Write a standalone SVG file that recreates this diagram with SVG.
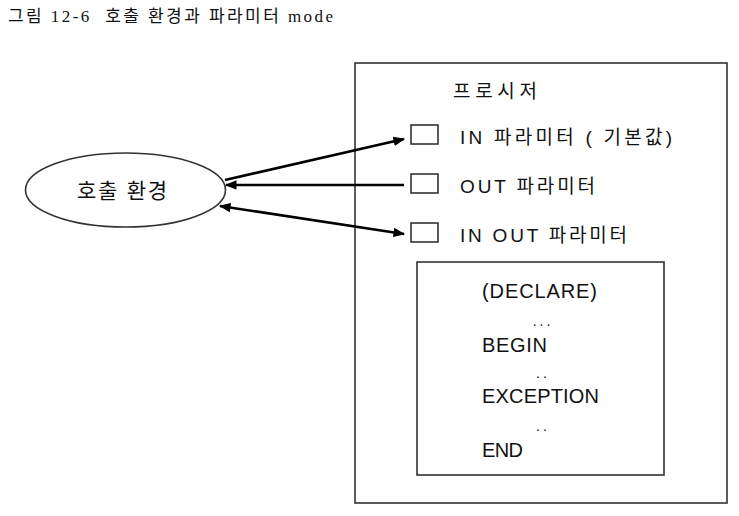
<svg xmlns="http://www.w3.org/2000/svg" width="739" height="516" viewBox="0 0 739 516">
<defs>
<marker id="ah" viewBox="0 0 10 10" refX="9" refY="5" markerWidth="4.5" markerHeight="4.5" orient="auto-start-reverse" markerUnits="strokeWidth">
<path d="M0,1 L10,5 L0,9 z" fill="#000"/>
</marker>
<style>
.t{font-family:"Liberation Sans","Noto Sans CJK KR",sans-serif;fill:#111;}
.box{fill:#fff;stroke:#333;stroke-width:1.6;}
.ln{stroke:#000;stroke-width:2.6;fill:none;}
</style>
</defs>
<rect width="739" height="516" fill="#fff"/>
<text x="8" y="22" font-family="Liberation Serif, Noto Sans CJK KR, serif" font-size="17" fill="#111" xml:space="preserve" textLength="325" lengthAdjust="spacing">그림 12-6  호출 환경과 파라미터 mode</text>
<g id="procedure">
<rect class="box" x="355" y="63" width="372" height="440"/>
<text class="t" x="453" y="98" font-size="19" textLength="84" lengthAdjust="spacing">프로시저</text>
</g>
<g id="env">
<ellipse class="box" cx="125.5" cy="190" rx="100" ry="37"/>
<text class="t" x="77" y="198" font-size="21" textLength="90" lengthAdjust="spacing">호출 환경</text>
</g>
<g id="p-in">
<rect class="box" x="411" y="125" width="27" height="19"/>
<text class="t" x="460" y="144" font-size="19" textLength="212" lengthAdjust="spacing">IN 파라미터 ( 기본값)</text>
</g>
<g id="p-out">
<rect class="box" x="411" y="174" width="27" height="19"/>
<text class="t" x="460" y="193" font-size="19" textLength="135" lengthAdjust="spacing">OUT 파라미터</text>
</g>
<g id="p-inout">
<rect class="box" x="411" y="223" width="27" height="19"/>
<text class="t" x="460" y="242" font-size="19" textLength="167" lengthAdjust="spacing">IN OUT 파라미터</text>
</g>
<g id="body">
<rect class="box" x="417" y="262" width="247" height="213"/>
<g class="t" font-size="20">
<text x="482" y="298" textLength="115" lengthAdjust="spacing">(DECLARE)</text>
<text x="543" y="326" font-size="14" text-anchor="middle" letter-spacing="3">...</text>
<text x="482" y="352" textLength="65" lengthAdjust="spacing">BEGIN</text>
<text x="543" y="378" font-size="14" text-anchor="middle" letter-spacing="3">..</text>
<text x="482" y="403" textLength="117" lengthAdjust="spacing">EXCEPTION</text>
<text x="543" y="431" font-size="14" text-anchor="middle" letter-spacing="3">..</text>
<text x="482" y="457" textLength="41" lengthAdjust="spacing">END</text>
</g>
</g>
<g id="connectors">
<line class="ln" x1="225" y1="180" x2="404" y2="139" marker-end="url(#ah)"/>
<line class="ln" x1="404" y1="185" x2="226" y2="185" marker-end="url(#ah)"/>
<line class="ln" x1="220" y1="206" x2="404" y2="234" marker-start="url(#ah)" marker-end="url(#ah)"/>
</g>
</svg>
